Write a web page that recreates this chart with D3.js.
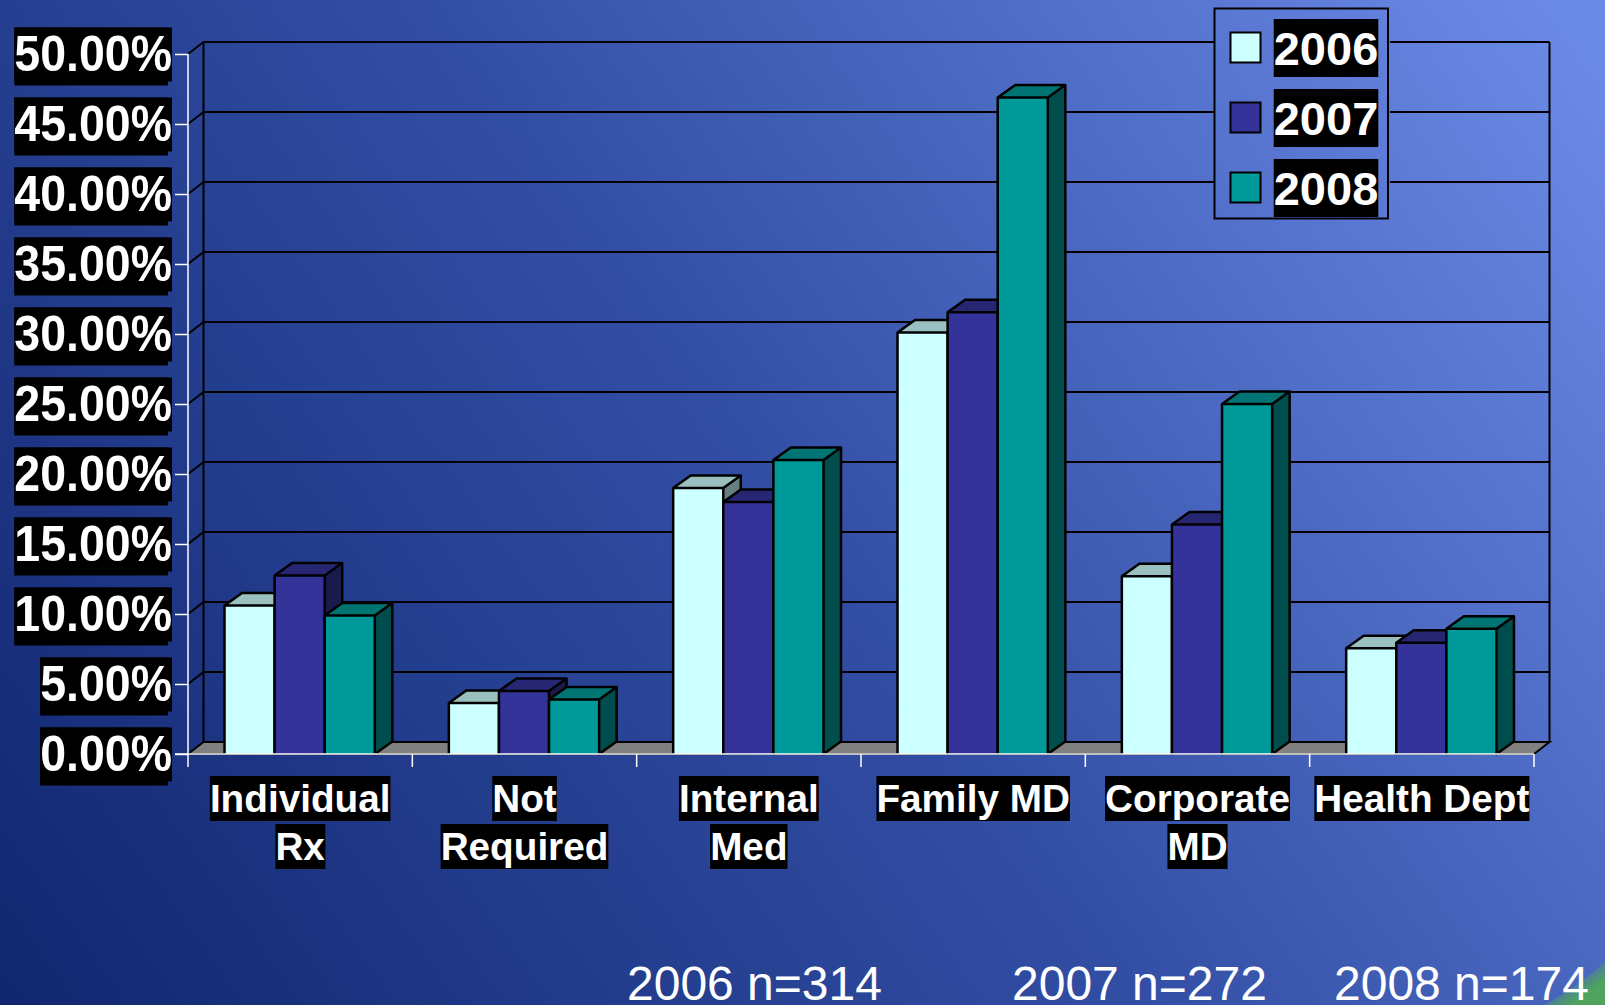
<!DOCTYPE html>
<html>
<head>
<meta charset="utf-8">
<script src="https://cdn.jsdelivr.net/npm/d3@7"></script>
<style>
html, body { margin: 0; padding: 0; background: #2a4496; overflow: hidden; }
svg { display: block; }
text { font-family: "Liberation Sans", Arial, sans-serif; }
</style>
</head>
<body>
<script>
const categories = ['Individual Rx', 'Not Required', 'Internal Med', 'Family MD', 'Corporate MD', 'Health Dept'];
const categoryLines = [['Individual', 'Rx'], ['Not', 'Required'], ['Internal', 'Med'], ['Family MD'], ['Corporate', 'MD'], ['Health Dept']];
const years = ['2006', '2007', '2008'];
const values2006 = [10.6, 3.65, 19.0, 30.1, 12.7, 7.55];
const values2007 = [12.75, 4.5, 18.0, 31.55, 16.4, 7.95];
const values2008 = [9.9, 3.9, 21.0, 46.9, 25.0, 8.95];
const yTicks = [0, 5, 10, 15, 20, 25, 30, 35, 40, 45, 50];
const sampleNotes = ['2006 n=314', '2007 n=272', '2008 n=174'];
const noteX = [627, 1012, 1334];

const frontColors = ['#ccffff', '#333399', '#009999'];
const topColors = ['#99bfbf', '#262673', '#007373'];
const sideColors = ['#668080', '#1a1a4d', '#004d4d'];

const width = 1605;
const height = 1005;
const wallX = 15.5;
const wallY = 12;
const depthX = 17.5;
const depthY = 12.5;

const y = d3.scaleLinear().domain([0, 50]).range([754, 54]);
const x0 = d3.scaleBand().domain(categories).range([187.5, 1533.5]).paddingInner(0.33).paddingOuter(0.165);
const x1 = d3.scaleBand().domain(years).range([0, x0.bandwidth()]);
const xTickScale = d3.scaleBand().domain(categories).range([188, 1534]);

const svg = d3.select('body').append('svg')
    .attr('width', width)
    .attr('height', height);

const defs = svg.append('defs');
const bg = defs.append('linearGradient')
    .attr('id', 'bg')
    .attr('gradientUnits', 'userSpaceOnUse')
    .attr('x1', 0).attr('y1', 1005)
    .attr('x2', 1500).attr('y2', -70);
bg.append('stop').attr('offset', '0').attr('stop-color', '#10266f');
bg.append('stop').attr('offset', '0.5').attr('stop-color', '#324ea4');
bg.append('stop').attr('offset', '1').attr('stop-color', '#6b8ae6');

const corner = defs.append('linearGradient')
    .attr('id', 'corner')
    .attr('gradientUnits', 'userSpaceOnUse')
    .attr('x1', 1570).attr('y1', 976)
    .attr('x2', 1584).attr('y2', 996);
corner.append('stop').attr('offset', '0').attr('stop-color', '#4a68bf');
corner.append('stop').attr('offset', '1').attr('stop-color', '#4fa35c');

svg.append('rect').attr('width', width).attr('height', height).attr('fill', 'url(#bg)');
svg.append('path')
    .attr('d', 'M1545,1005Q1580,985 1605,962V1005Z')
    .attr('fill', 'url(#corner)');

// back wall and floor
const backLeft = 188 + wallX;
const backRight = 1534 + wallX;

svg.append('path')
    .attr('d', `M188,${y(0)}L${backLeft},${y(0) - wallY}H${backRight}L1534,${y(0)}Z`)
    .attr('fill', '#808080')
    .attr('stroke', '#000')
    .attr('stroke-width', 2);

svg.append('g').selectAll('line')
    .data(yTicks.slice(1))
    .join('line')
    .attr('x1', backLeft)
    .attr('x2', backRight)
    .attr('y1', d => y(d) - wallY)
    .attr('y2', d => y(d) - wallY)
    .attr('stroke', '#000')
    .attr('stroke-width', 2);

svg.append('g').selectAll('line')
    .data(yTicks.slice(1))
    .join('line')
    .attr('x1', 188)
    .attr('x2', backLeft)
    .attr('y1', d => y(d))
    .attr('y2', d => y(d) - wallY)
    .attr('stroke', '#000')
    .attr('stroke-width', 2);

svg.append('path')
    .attr('d', `M${backLeft},${y(0) - wallY}V${y(50) - wallY}M${backRight},${y(50) - wallY}V${y(0) - wallY}`)
    .attr('fill', 'none')
    .attr('stroke', '#000')
    .attr('stroke-width', 2);

// bars, one year after the other so each one covers the side of the last
const rows = [values2006, values2007, values2008];
categories.forEach((cat, c) => {
    const g = svg.append('g');
    years.forEach((yr, s) => {
        const left = x0(cat) + x1(yr);
        const right = left + x1.bandwidth();
        const top = y(rows[s][c]);
        const bottom = y(0);
        g.append('path')
            .attr('d', `M${right},${bottom}L${right + depthX},${bottom - depthY}V${top - depthY}L${right},${top}Z`)
            .attr('fill', sideColors[s]);
        g.append('path')
            .attr('d', `M${left},${top}L${left + depthX},${top - depthY}H${right + depthX}L${right},${top}Z`)
            .attr('fill', topColors[s]);
        g.append('rect')
            .attr('x', left)
            .attr('y', top)
            .attr('width', x1.bandwidth())
            .attr('height', bottom - top)
            .attr('fill', frontColors[s]);
        g.append('path')
            .attr('d', `M${left},${bottom}V${top}L${left + depthX},${top - depthY}H${right + depthX}V${bottom - depthY}L${right},${bottom}V${top}H${left}M${right},${top}L${right + depthX},${top - depthY}`)
            .attr('fill', 'none')
            .attr('stroke', '#000')
            .attr('stroke-width', 2.5)
            .attr('stroke-linejoin', 'round');
    });
});

// axes
const yAxis = d3.axisLeft(y).tickValues(yTicks).tickSize(13).tickFormat(d => d.toFixed(2) + '%');
const yAxisG = svg.append('g').attr('transform', 'translate(188,0)').call(yAxis);
const xAxis = d3.axisBottom(xTickScale).tickSize(13).tickFormat('');
const xAxisG = svg.append('g').attr('transform', `translate(0,${y(0)})`).call(xAxis);

xAxisG.selectAll('.tick').remove();
xAxisG.selectAll('.edge')
    .data(d3.range(7))
    .join('line')
    .attr('x1', i => 188 + i * xTickScale.step())
    .attr('x2', i => 188 + i * xTickScale.step())
    .attr('y1', 0)
    .attr('y2', 13)
    .attr('stroke', '#fff')
    .attr('stroke-width', 1.5);
xAxisG.select('.domain').attr('d', 'M175,0H1534').attr('stroke', '#fff').attr('stroke-width', 1.5);
yAxisG.select('.domain').attr('d', `M0,${y(50)}V${y(0)}`).attr('stroke', '#fff').attr('stroke-width', 1.5);
yAxisG.selectAll('.tick line').attr('stroke', '#fff').attr('stroke-width', 1.5);

// digits in the picture are a bit taller than the font, hence the scale
const tallY = 1.07;
yAxisG.selectAll('.tick text')
    .attr('x', -16)
    .attr('dy', null)
    .attr('y', 16.5 / tallY)
    .attr('transform', `scale(1,${tallY})`)
    .attr('fill', '#fff')
    .attr('font-family', '"Liberation Sans", Arial, sans-serif')
    .attr('font-weight', 'bold')
    .attr('font-size', 46.5);

yAxisG.selectAll('.tick').each(function () {
    const t = d3.select(this);
    const box = t.select('text').node().getBBox();
    t.insert('rect', 'text')
        .attr('x', box.x)
        .attr('y', -27)
        .attr('width', box.width)
        .attr('height', 54)
        .attr('fill', '#000');
    t.insert('rect', 'text')
        .attr('x', box.x)
        .attr('y', -27)
        .attr('width', box.width - 4)
        .attr('height', 58)
        .attr('fill', '#000');
});

// label text on a black box, same look everywhere
function boxedLabel(parent, txt, cx, baseline, size, boxTop, boxHeight) {
    const g = parent.append('g');
    const t = g.append('text')
        .attr('x', cx)
        .attr('y', baseline)
        .attr('text-anchor', 'middle')
        .attr('font-weight', 'bold')
        .attr('font-size', size)
        .attr('fill', '#fff')
        .text(txt);
    const box = t.node().getBBox();
    g.insert('rect', 'text')
        .attr('x', box.x)
        .attr('y', boxTop)
        .attr('width', box.width)
        .attr('height', boxHeight)
        .attr('fill', '#000');
}

const xLabels = svg.append('g');
categories.forEach((cat, i) => {
    const cx = xTickScale(cat) + xTickScale.bandwidth() / 2;
    categoryLines[i].forEach((line, k) => {
        boxedLabel(xLabels, line, cx, 812 + k * 48, 38.7, 776 + k * 48, 45);
    });
});

// legend
const legendScale = d3.scalePoint().domain(years).range([0, 140]);
const legend = svg.append('g');
legend.append('rect')
    .attr('x', 1214).attr('y', 8)
    .attr('width', 176).attr('height', 210)
    .attr('fill', 'url(#bg)');
legend.append('rect')
    .attr('x', 1214.5).attr('y', 8.5)
    .attr('width', 173.5).attr('height', 210)
    .attr('fill', 'none')
    .attr('stroke', '#000')
    .attr('stroke-width', 2);
years.forEach((yr, s) => {
    const top = legendScale(yr);
    legend.append('rect')
        .attr('x', 1230.5).attr('y', 32.5 + top)
        .attr('width', 30).attr('height', 30)
        .attr('fill', frontColors[s])
        .attr('stroke', '#000')
        .attr('stroke-width', 2);
    boxedLabel(legend, yr, 1326, 64.5 + top, 47, 19 + top, 58);
});

svg.append('g').selectAll('text')
    .data(sampleNotes)
    .join('text')
    .attr('x', (d, i) => noteX[i])
    .attr('y', 1000)
    .attr('font-size', 48)
    .attr('fill', '#fff')
    .text(d => d);
</script>
</body>
</html>
